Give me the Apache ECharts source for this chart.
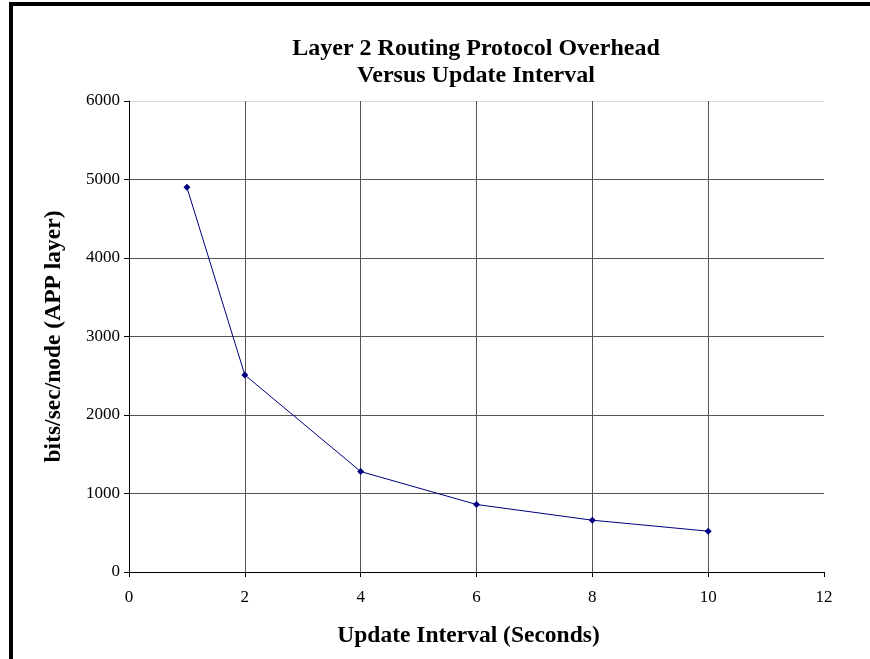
<!DOCTYPE html>
<html>
<head>
<meta charset="utf-8">
<script src="https://cdn.jsdelivr.net/npm/echarts@6/dist/echarts.min.js"></script>
<style>
html,body{margin:0;padding:0;background:#fff;}
#c{width:870px;height:659px;}
</style>
</head>
<body>
<div id="c"></div>
<script>
const xValues = [1, 2, 4, 6, 8, 10];
const yValues = [4900, 2510, 1280, 860, 660, 520];
const titleText = 'Layer 2 Routing Protocol Overhead\nVersus Update Interval';
const xName = 'Update Interval (Seconds)';
const yName = 'bits/sec/node (APP layer)';

const chart = echarts.init(document.getElementById('c'));
const font = '"Liberation Serif","Times New Roman",serif';
const grid = '#555';
chart.setOption({
  backgroundColor: '#fff',
  animation: false,
  graphic: [{
    type: 'rect', silent: true,
    shape: {x: 11, y: 4, width: 900, height: 700},
    style: {fill: 'none', stroke: '#000', lineWidth: 4}
  }],
  title: {
    text: titleText, left: 471, top: 30, textAlign: 'center',
    textStyle: {fontFamily: font, fontWeight: 'bold', fontSize: 24, color: '#000', lineHeight: 27}
  },
  grid: {left: 129, right: 46, top: 101, bottom: 87},
  xAxis: {
    type: 'value', min: 0, max: 12, interval: 2,
    name: xName, nameLocation: 'middle', nameGap: 52,
    nameTextStyle: {fontFamily: font, fontWeight: 'bold', fontSize: 23.5, color: '#000', padding: [0, 16, 0, 0]},
    axisLine: {lineStyle: {color: '#000', width: 1}},
    axisTick: {show: true, length: 5, lineStyle: {color: '#000'}},
    axisLabel: {fontFamily: font, fontSize: 17, color: '#000', margin: 17},
    splitLine: {show: true, lineStyle: {color: [grid, grid, grid, grid, grid, grid, 'rgba(0,0,0,0)'], width: 1}}
  },
  yAxis: {
    type: 'value', min: 0, max: 6000, interval: 1000,
    name: yName, nameLocation: 'middle', nameGap: 63, nameRotate: 90,
    nameTextStyle: {fontFamily: font, fontWeight: 'bold', fontSize: 23.5, color: '#000'},
    axisLine: {show: true, lineStyle: {color: '#000', width: 1}},
    axisTick: {show: true, length: 5, lineStyle: {color: '#000'}},
    axisLabel: {fontFamily: font, fontSize: 17, color: '#000', margin: 9, formatter: v => String(v)},
    splitLine: {show: true, lineStyle: {color: [grid, grid, grid, grid, grid, grid, '#ddd'], width: 1}}
  },
  series: [{
    type: 'line',
    data: xValues.map((x, i) => [x, yValues[i]]),
    symbol: 'diamond', symbolSize: 7,
    lineStyle: {color: '#000080', width: 1},
    itemStyle: {color: '#000080'}
  }]
});
</script>
</body>
</html>
